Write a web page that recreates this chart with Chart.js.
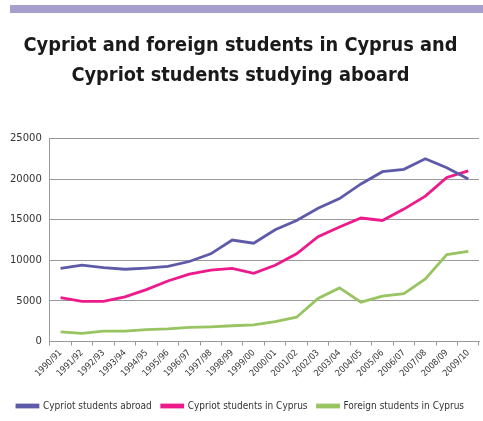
<!DOCTYPE html>
<html>
<head>
<meta charset="utf-8">
<script src="https://cdn.jsdelivr.net/npm/chart.js@4/dist/chart.umd.min.js"></script>
<style>
  html, body { margin: 0; padding: 0; background: #fff; }
  #wrap { position: relative; width: 483px; height: 421px; }
  #topBar { position: absolute; left: 10px; top: 5px; width: 473px; height: 8px; background: #a69fce; }
  #chart { position: absolute; left: 0; top: 0; }
</style>
</head>
<body>
<div id="wrap">
  <div id="topBar"></div>
  <canvas id="chart" width="483" height="421"></canvas>
</div>
<script>
const years = ['1990/91', '1991/92', '1992/93', '1993/94', '1994/95', '1995/96', '1996/97', '1997/98', '1998/99', '1999/00',
    '2000/01', '2001/02', '2002/03', '2003/04', '2004/05', '2005/06', '2006/07', '2007/08', '2008/09', '2009/10'];

const abroad = [9000, 9400, 9100, 8900, 9050, 9250, 9850, 10800, 12500, 12100,
    13750, 14900, 16400, 17600, 19400, 20900, 21200, 22500, 21400, 20000];

const inCyprus = [5400, 4950, 4950, 5500, 6400, 7450, 8300, 8800, 9000, 8400,
    9400, 10800, 12900, 14100, 15200, 14900, 16300, 17900, 20200, 21000];

const foreign = [1200, 1000, 1280, 1280, 1480, 1560, 1740, 1820, 1950, 2050,
    2450, 3000, 5300, 6600, 4850, 5600, 5900, 7700, 10700, 11100];

const yTicks = [0, 5000, 10000, 15000, 20000, 25000];

const titleLines = ['Cypriot and foreign students in Cyprus and', 'Cypriot students studying aboard'];

function serie(label, data, color) {
    return {
        label,
        data,
        borderColor: color,
        backgroundColor: color,
        borderWidth: 2.8,
        pointRadius: 0,
        tension: 0,
        fill: false
    };
}

new Chart(document.getElementById('chart'), {
    type: 'line',
    data: {
        labels: years,
        datasets: [
            serie('Cypriot students abroad', abroad, '#5d5aa8'),
            serie('Cypriot students in Cyprus', inCyprus, '#ec1a8a'),
            serie('Foreign students in Cyprus', foreign, '#98c462')
        ]
    },
    options: {
        responsive: false,
        animation: false,
        layout: { padding: { left: 2, right: 4, top: 26, bottom: 0 } },
        plugins: {
            title: {
                display: true,
                text: titleLines,
                color: '#1a1a1a',
                font: { family: 'DejaVu Sans Condensed', size: 19.8, weight: 'bold', lineHeight: 1.5 },
                padding: { top: 5, bottom: 48 }
            },
            legend: {
                position: 'bottom',
                labels: {
                    color: '#333',
                    boxWidth: 21,
                    boxHeight: 2,
                    padding: 10,
                    font: { family: 'DejaVu Sans Condensed', size: 10 }
                }
            },
            tooltip: { enabled: false }
        },
        scales: {
            y: {
                min: 0,
                max: 25000,
                afterBuildTicks: axis => { axis.ticks = yTicks.map(v => ({ value: v })); },
                ticks: {
                    color: '#333',
                    padding: 8,
                    font: { family: 'DejaVu Sans', size: 10 },
                    callback: v => String(v)
                },
                grid: { color: '#999', lineWidth: 1, drawTicks: false },
                border: { color: '#999' }
            },
            x: {
                offset: true,
                afterFit: axis => { axis.height += 10; },
                ticks: {
                    color: '#333',
                    minRotation: 45,
                    maxRotation: 45,
                    autoSkip: false,
                    padding: 2,
                    font: { family: 'DejaVu Sans Condensed', size: 9 }
                },
                grid: { offset: true, drawOnChartArea: false, drawTicks: true, tickLength: 4, color: '#999' },
                border: { color: '#999' }
            }
        }
    }
});
</script>
</body>
</html>
